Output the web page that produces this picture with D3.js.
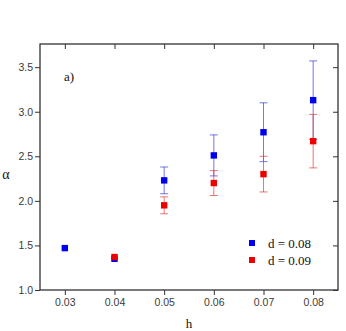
<!DOCTYPE html>
<html>
<head>
<meta charset="utf-8">
<script src="https://cdn.jsdelivr.net/npm/d3@7"></script>
<style>
  body { margin: 0; background: #fff; }
  svg { display: block; }
</style>
</head>
<body>
<svg id="chart"></svg>
<script>
// data
var hValues = [0.03, 0.04, 0.05, 0.06, 0.07, 0.08];
var alphaD08 = [1.47, 1.35, 2.23, 2.51, 2.77, 3.13];
var errD08 = [0, 0, 0.15, 0.23, 0.33, 0.44];
var alphaD09 = [null, 1.37, 1.95, 2.20, 2.30, 2.67];
var errD09 = [0, 0, 0.095, 0.14, 0.2, 0.3];
var seriesNames = ['d = 0.08', 'd = 0.09'];
var xTicks = [0.03, 0.04, 0.05, 0.06, 0.07, 0.08];
var yTicks = [1.0, 1.5, 2.0, 2.5, 3.0, 3.5];

function drawChart() {
  var W = 346, H = 331;
  var svg = d3.select('#chart').attr('width', W).attr('height', H);

  var pLeft = 40, pRight = 338, pTop = 44, pBottom = 290;

  var x = d3.scaleLinear().domain([0.025, 0.085]).range([pLeft, pRight]);
  var y = d3.scaleLinear().domain([1.0, 3.76]).range([pBottom, pTop]);

  var axisColor = '#333';
  var labelFont = '"Liberation Sans", Arial, sans-serif';
  var serif = '"Liberation Serif", "Times New Roman", serif';

  // minor ticks
  var xMinor = d3.range(0.025, 0.0851, 0.005);
  var yMinor = d3.range(1.0, 3.76, 0.25);

  // bottom axis
  var gx = svg.append('g').attr('transform', 'translate(0,' + pBottom + ')');
  gx.call(d3.axisBottom(x).tickValues(xMinor).tickSize(3).tickFormat(''));
  gx.call(d3.axisBottom(x).tickValues(xTicks).tickSize(5).tickFormat(d3.format('.2f')));

  // top axis, ticks inward
  var gxt = svg.append('g').attr('transform', 'translate(0,' + pTop + ')');
  gxt.call(d3.axisBottom(x).tickValues(xMinor).tickSize(3).tickFormat(''));
  gxt.call(d3.axisBottom(x).tickValues(xTicks).tickSize(5).tickFormat(''));

  // left axis
  var gy = svg.append('g').attr('transform', 'translate(' + pLeft + ',0)');
  gy.call(d3.axisLeft(y).tickValues(yMinor).tickSize(3).tickFormat(''));
  gy.call(d3.axisLeft(y).tickValues(yTicks).tickSize(5).tickFormat(d3.format('.1f')));

  // right axis, ticks inward
  var gyr = svg.append('g').attr('transform', 'translate(' + pRight + ',0)');
  gyr.call(d3.axisLeft(y).tickValues(yMinor).tickSize(3).tickFormat(''));
  gyr.call(d3.axisLeft(y).tickValues(yTicks).tickSize(5).tickFormat(''));

  svg.selectAll('.domain').remove();
  svg.selectAll('.tick line').attr('stroke', axisColor).attr('stroke-width', 1);
  svg.selectAll('.tick text')
    .attr('fill', '#3a3a3a')
    .style('font-family', labelFont)
    .style('font-size', '10.5px');
  gx.selectAll('.tick text').attr('y', 9);
  gy.selectAll('.tick text').attr('x', -7);

  // frame
  svg.append('rect')
    .attr('x', pLeft).attr('y', pTop)
    .attr('width', pRight - pLeft).attr('height', pBottom - pTop)
    .attr('fill', 'none')
    .attr('stroke', axisColor)
    .attr('stroke-width', 1.3);

  var series = [
    { name: seriesNames[0], vals: alphaD08, errs: errD08, color: '#0000ee', bar: 'rgba(60,60,220,0.7)' },
    { name: seriesNames[1], vals: alphaD09, errs: errD09, color: '#ee0000', bar: 'rgba(225,60,60,0.7)' }
  ];

  series.forEach(function(s) {
    var pts = hValues.map(function(h, i) {
      return { h: h, v: s.vals[i], e: s.errs[i] };
    }).filter(function(p) { return p.v != null; });

    var g = svg.append('g');

    // error bars
    pts.filter(function(p) { return p.e > 0; }).forEach(function(p) {
      var cx = x(p.h);
      var y0 = y(p.v - p.e), y1 = y(p.v + p.e);
      g.append('line').attr('x1', cx).attr('x2', cx).attr('y1', y0).attr('y2', y1)
        .attr('stroke', s.bar).attr('stroke-width', 1);
      [y0, y1].forEach(function(yy) {
        g.append('line').attr('x1', cx - 4).attr('x2', cx + 4).attr('y1', yy).attr('y2', yy)
          .attr('stroke', s.bar).attr('stroke-width', 1);
      });
    });

    g.selectAll('rect').data(pts).enter().append('rect')
      .attr('x', function(p) { return x(p.h) - 3.2; })
      .attr('y', function(p) { return y(p.v) - 3.2; })
      .attr('width', 6.4).attr('height', 6.4)
      .attr('fill', s.color);
  });

  // legend
  series.forEach(function(s, i) {
    var ly = 243 + i * 17;
    svg.append('rect').attr('x', 249).attr('y', ly - 3).attr('width', 6).attr('height', 6)
      .attr('fill', s.color);
    svg.append('text').attr('x', 268).attr('y', ly + 4.5)
      .text(s.name)
      .style('font-family', serif)
      .style('font-size', '13px')
      .attr('fill', '#111');
  });

  // annotation
  svg.append('text').attr('x', 64).attr('y', 81).text('a)')
    .style('font-family', serif).style('font-size', '13px').attr('fill', '#111');

  // axis titles
  svg.append('text').attr('x', 189).attr('y', 328).attr('text-anchor', 'middle').text('h')
    .style('font-family', serif).style('font-size', '13px').attr('fill', '#111');
  svg.append('text').attr('x', 6).attr('y', 179).attr('text-anchor', 'middle').text('α')
    .style('font-family', serif).style('font-size', '14px').attr('fill', '#111');
}

drawChart();
</script>
</body>
</html>
